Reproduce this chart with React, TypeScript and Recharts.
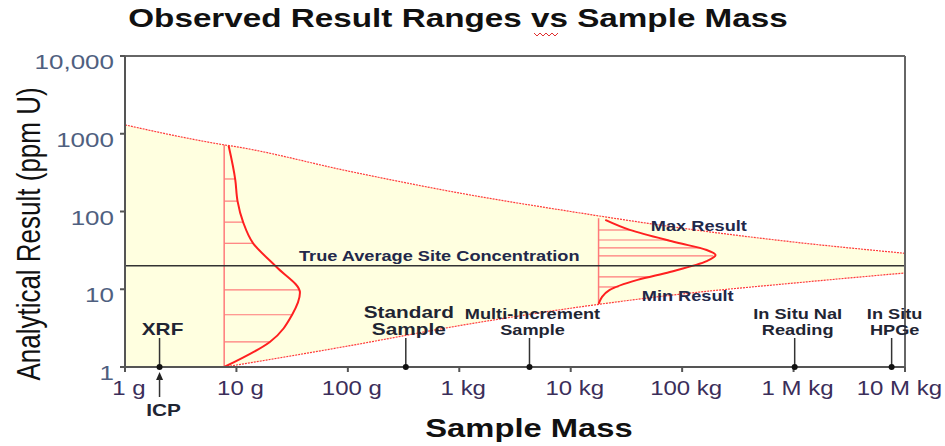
import React from 'react';
import { ComposedChart, XAxis, YAxis, Area, Line, ReferenceLine, ReferenceDot } from 'recharts';

// x axis is an evenly spaced mass scale (index 0..7)
const massTicks = [0, 1, 2, 3, 4, 5, 6, 7];
const massLabels = ['1 g', '10 g', '100 g', '1 kg', '10 kg', '100 kg', '1 M kg', '10 M kg'];
const ppmTicks = [1, 10, 100, 1000, 10000];

// envelope of observed results
const envelopeMass = [0, 0.89, 1, 2, 3, 4, 5, 6, 7];
const maxResult = [1300, 720, 680, 332, 173, 100, 61, 40.5, 29];
const minResult = [null, 1, 1.06, 1.86, 3.4, 5.7, 8.7, 12, 16.2];

const trueAverage = 20;

// result distribution for ~10 g samples
const smallBase = 0.89;
const smallBaseRange = [1, 720];
const smallCurveMass = [0.89, 1.3, 1.5, 1.57, 1.36, 1.15, 1.06, 1.01, 0.99, 0.93];
const smallCurvePpm = [1, 2.1, 4.7, 9, 19.3, 39, 73, 136, 254, 700];
const smallHatchPpm = [2.1, 4.7, 9.8, 39, 73, 136, 262];
const smallHatchReach = [1.3, 1.5, 1.57, 1.15, 1.06, 1.01, 0.99];

// result distribution for ~20 kg samples
const bigBase = 4.25;
const bigBaseRange = [6.5, 82];
const bigCurveMass = [4.25, 4.35, 4.6, 4.89, 5.22, 5.3, 5.22, 4.95, 4.53, 4.31];
const bigCurvePpm = [6.5, 9.8, 13.2, 16.7, 23, 27.5, 32, 40, 58, 78];
const bigHatchPpm = [57.8, 43, 34, 26.8, 14.4, 10.7];
const bigHatchReach = [4.53, 4.88, 5.16, 5.28, 4.71, 4.43];

// measurement methods marked along the mass axis
const methodNames = [['XRF'], ['Standard', 'Sample'], ['Multi-Increment', 'Sample'], ['In Situ NaI', 'Reading'], ['In Situ', 'HPGe']];
const methodMass = [0.31, 2.52, 3.63, 6.01, 6.88];
const stemTop = 2.36;
const icpMass = 0.31;

const envelope = envelopeMass.map((m, i) => ({
  mass: m,
  max: maxResult[i],
  min: minResult[i],
  band: [minResult[i] ?? 1, maxResult[i]],
}));
const smallCurve = smallCurveMass.map((m, i) => ({ mass: m, ppm: smallCurvePpm[i] }));
const bigCurve = bigCurveMass.map((m, i) => ({ mass: m, ppm: bigCurvePpm[i] }));

const FONT = '"Liberation Sans", Arial, sans-serif';
const RED = '#ff2020';
const PALE_RED = '#ff7a7a';
const methodSize = [16, 16, 14, 14, 14];
const methodLead = [16, 17, 16, 16, 16];

function Stretch({ x, y, sx = 1.3, size, weight = 'bold', fill = '#1f2533', anchor = 'middle', children }: any) {
  return (
    <text transform={`translate(${x},${y}) scale(${sx},1)`} textAnchor={anchor} fontSize={size}
      fontWeight={weight} fill={fill} fontFamily={FONT}>{children}</text>
  );
}

const center = (props: any) => {
  const vb = props.viewBox || { x: 0, y: 0, width: 0, height: 0 };
  return [vb.x + (vb.width || 0) / 2, vb.y + (vb.height || 0) / 2];
};

const XTick = ({ x, y, payload }: any) => {
  const last = payload.value === massTicks[massTicks.length - 1];
  return (
    <Stretch x={last ? x + 37 : x + 4} y={y + 21} sx={1.2} size={20} weight="normal" fill="#3b2e5a"
      anchor={last ? 'end' : 'middle'}>{massLabels[payload.value]}</Stretch>
  );
};
const YTick = ({ x, y, payload }: any) => (
  <Stretch x={x - 4} y={y + 13} sx={1.3} size={20} weight="normal" fill="#4f6080" anchor="end">
    {payload.value === 10000 ? '10,000' : String(payload.value)}
  </Stretch>
);

const methodLabel = (lines: string[], size: number, lead: number) => (props: any) => {
  const [cx, cy] = center(props);
  return (
    <g>
      {lines.map((t, i) => (
        <Stretch key={i} x={cx + 3} y={cy - 32 - (lines.length - 1 - i) * lead} size={size}>{t}</Stretch>
      ))}
    </g>
  );
};

const icpLabel = (props: any) => {
  const [cx, cy] = center(props);
  return (
    <g>
      <path d={`M${cx},${cy + 5} L${cx - 3.5},${cy + 13} L${cx + 3.5},${cy + 13} Z`} fill="#222" />
      <line x1={cx} y1={cy + 12} x2={cx} y2={cy + 30} stroke="#333" strokeWidth={1.5} />
      <Stretch x={cx + 4} y={cy + 49} size={16}>ICP</Stretch>
    </g>
  );
};

const textAt = (text: string, size: number) => (props: any) => {
  const [cx, cy] = center(props);
  return <Stretch x={cx} y={cy + 5} size={size} fill="#22284a">{text}</Stretch>;
};

export default function App() {
  return (
    <div style={{ position: 'absolute', left: 0, top: 0, width: 945, height: 446, background: '#fff' }}>
      <ComposedChart width={945} height={446} data={envelope} margin={{ top: 56, right: 40, bottom: 49, left: 0 }}
        style={{ position: 'absolute', left: 0, top: 0 }}>
        <XAxis dataKey="mass" type="number" domain={[0, 7]} ticks={massTicks} allowDataOverflow height={30}
          stroke="#555" strokeWidth={2} tickSize={5} tick={<XTick />} />
        <YAxis type="number" scale="log" domain={[1, 10000]} ticks={ppmTicks} allowDataOverflow width={125}
          stroke="#555" strokeWidth={2} tickSize={5} tick={<YTick />} />
        <Area dataKey="band" type="monotone" fill="#ffffe0" fillOpacity={1} stroke="none" isAnimationActive={false} />
        <Line dataKey="max" type="monotone" stroke="#ff3b3b" strokeWidth={1.2} strokeDasharray="2 1" dot={false} isAnimationActive={false} />
        <Line dataKey="min" type="monotone" stroke="#ff3b3b" strokeWidth={1.2} strokeDasharray="2 1" dot={false} isAnimationActive={false} />

        <ReferenceLine segment={[{ x: smallBase, y: smallBaseRange[0] }, { x: smallBase, y: smallBaseRange[1] }]} stroke={PALE_RED} strokeWidth={1.5} />
        {smallHatchPpm.map((p, i) => (
          <ReferenceLine key={`sh${i}`} segment={[{ x: smallBase, y: p }, { x: smallHatchReach[i], y: p }]} stroke={PALE_RED} strokeWidth={1.2} />
        ))}
        <ReferenceLine segment={[{ x: bigBase, y: bigBaseRange[0] }, { x: bigBase, y: bigBaseRange[1] }]} stroke={PALE_RED} strokeWidth={1.5} />
        {bigHatchPpm.map((p, i) => (
          <ReferenceLine key={`bh${i}`} segment={[{ x: bigBase, y: p }, { x: bigHatchReach[i], y: p }]} stroke={PALE_RED} strokeWidth={1.2} />
        ))}

        <Line data={smallCurve} dataKey="ppm" type="monotoneY" stroke={RED} strokeWidth={2} dot={false} isAnimationActive={false} />
        <Line data={bigCurve} dataKey="ppm" type="monotoneY" stroke={RED} strokeWidth={2} dot={false} isAnimationActive={false} />

        <ReferenceLine y={trueAverage} stroke="#333" strokeWidth={1.5} />
        <ReferenceLine y={10000} stroke="#666" strokeWidth={2} />
        <ReferenceLine x={7} stroke="#666" strokeWidth={2} />

        <ReferenceDot x={2.82} y={26.8} r={0} label={textAt('True Average Site Concentration', 14)} />
        <ReferenceDot x={5.15} y={65} r={0} label={textAt('Max Result', 14)} />
        <ReferenceDot x={5.05} y={8.2} r={0} label={textAt('Min Result', 14)} />

        {methodMass.map((m, i) => (
          <ReferenceLine key={`ms${i}`} segment={[{ x: m, y: 1 }, { x: m, y: stemTop }]} stroke="#333" strokeWidth={1.5} />
        ))}
        {methodMass.map((m, i) => (
          <ReferenceDot key={`md${i}`} x={m} y={1} r={3} fill="#111" stroke="none"
            label={methodLabel(methodNames[i], methodSize[i], methodLead[i])} />
        ))}
        <ReferenceDot x={icpMass} y={1} r={0} label={icpLabel} />
      </ComposedChart>

      <svg width={945} height={446} style={{ position: 'absolute', left: 0, top: 0, pointerEvents: 'none' }}>
        <Stretch x={458} y={27} sx={1.33} size={25} fill="#111">Observed Result Ranges vs Sample Mass</Stretch>
        <polyline points="534,33 537,36 540,33 543,36 546,33 549,36 552,33 555,36 558,33" fill="none" stroke="#e03030" strokeWidth={1} />
        <Stretch x={529} y={437} sx={1.31} size={25} fill="#111">Sample Mass</Stretch>
        <text transform="translate(28,234) rotate(-90) scale(1,1.25)" textAnchor="middle" dominantBaseline="central"
          fontSize={26} fontFamily={FONT} fill="#111">Analytical Result (ppm U)</text>
      </svg>
    </div>
  );
}
